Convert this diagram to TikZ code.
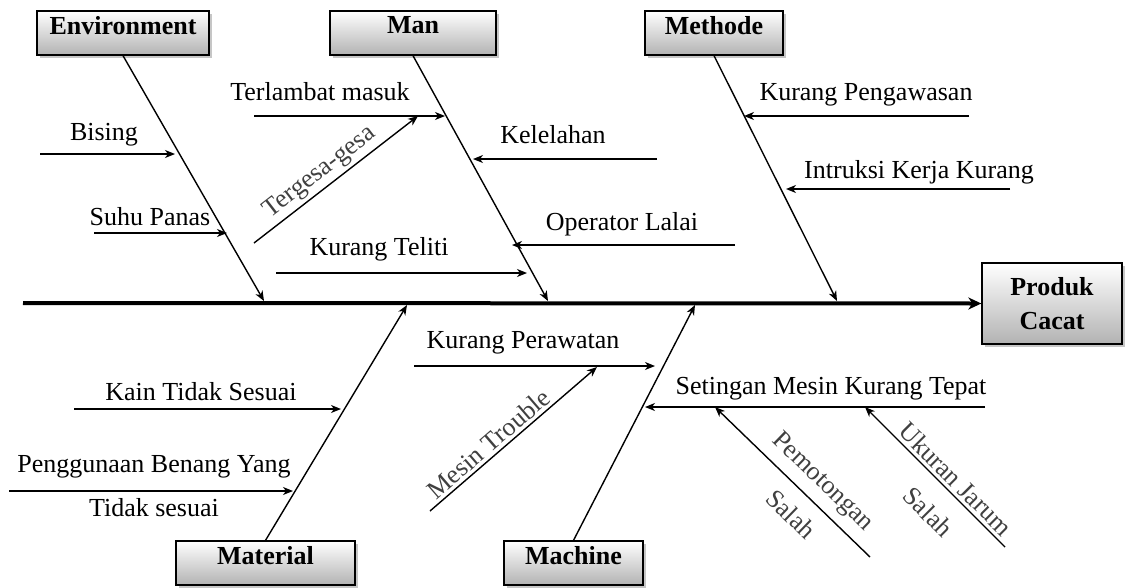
\documentclass[tikz,border=0pt]{standalone}
\usepackage{fontspec}
\setmainfont{Liberation Serif}
\usetikzlibrary{arrows.meta,shadows}
\begin{document}
\begin{tikzpicture}[x=1pt,y=-1pt,
  catbox/.style={draw=black, line width=1.3pt, top color=white, bottom color=black!30,
    drop shadow={shadow xshift=2.5pt,shadow yshift=-2.5pt,opacity=.45},
    minimum height=44pt, inner sep=0pt},
  cattext/.style={font=\fontsize{26}{28}\selectfont\bfseries, anchor=north, inner sep=0pt, yshift=-6pt},
  lbl/.style={font=\fontsize{26}{28}\selectfont, inner sep=0pt},
  rlbl/.style={lbl, text=black!75},
  spine/.style={line width=1.4pt, -{Stealth[length=10pt,width=8pt,inset=3pt]}},
  cause/.style={line width=1.4pt, -{Stealth[length=10pt,width=8pt,inset=3pt]}},
  mainline/.style={line width=4pt, -{Stealth[length=13pt,width=12pt,inset=4pt]}}
]
\useasboundingbox (0,0) rectangle (1125,587);

% category boxes
\node[catbox, minimum width=172pt] (env) at (123,33) {};
\node[cattext] (envt) at (env.north) {Environment};
\node[catbox, minimum width=166pt] (man) at (413,33) {};
\node[cattext] (mant) at (man.north) {Man};
\node[catbox, minimum width=138pt] (met) at (714,33) {};
\node[cattext] (mett) at (met.north) {Methode};
\node[catbox, minimum width=179pt] (mat) at (265.5,563) {};
\node[cattext] (matt) at (mat.north) {Material};
\node[catbox, minimum width=139pt] (mac) at (573.5,563) {};
\node[cattext] (mact) at (mac.north) {Machine};
\node[catbox, minimum width=140pt, minimum height=81pt, align=center,
  font=\fontsize{26}{34}\selectfont\bfseries] (prod) at (1052,303.5) {Produk\\Cacat};

% main line
\coordinate (ms) at (23,303);
\draw[mainline] (ms) -- (prod.west);

% spines
\coordinate (envtip) at (264,301);
\coordinate (mantip) at (548,301);
\coordinate (mettip) at (837,301);
\coordinate (mattip) at (407,305);
\coordinate (mactip) at (695,305);
\draw[spine] (env.south) -- (envtip);
\draw[spine] (man.south) -- (mantip);
\draw[spine] (met.south) -- (mettip);
\draw[spine] (mat.north) -- (mattip);
\draw[spine] (mac.north) -- (mactip);

% Environment causes
\coordinate (bis1) at (40,154);   \coordinate (bis2) at (175,154);
\coordinate (suh1) at (94,233);   \coordinate (suh2) at (227,233);
\draw[cause] (bis1) -- (bis2);
\draw[cause] (suh1) -- (suh2);
\node[lbl] (bis) at (104,135) {Bising};
\node[lbl] (suh) at (150,217) {Suhu Panas};

% Man causes
\coordinate (ter1) at (254,116);  \coordinate (ter2) at (445,116);
\coordinate (tg1) at (254,243);   \coordinate (tg2) at (418,116);
\coordinate (kt1) at (276,273);   \coordinate (kt2) at (527,273);
\coordinate (kel1) at (657,159);  \coordinate (kel2) at (473,159);
\coordinate (op1) at (735,245);   \coordinate (op2) at (512,245);
\draw[cause] (ter1) -- (ter2);
\draw[cause] (tg1) -- (tg2) node[rlbl, pos=0.46, sloped, above=3pt] (tg) {Tergesa-gesa};
\draw[cause] (kt1) -- (kt2);
\draw[cause] (kel1) -- (kel2);
\draw[cause] (op1) -- (op2);
\node[lbl] (ter) at (320,92) {Terlambat masuk};
\node[lbl] (kt) at (379,249) {Kurang Teliti};
\node[lbl] (kel) at (553,135) {Kelelahan};
\node[lbl] (op) at (622,224) {Operator Lalai};

% Methode causes
\coordinate (kp1) at (969,116);   \coordinate (kp2) at (744,116);
\coordinate (ik1) at (1010,189);  \coordinate (ik2) at (786,189);
\draw[cause] (kp1) -- (kp2);
\draw[cause] (ik1) -- (ik2);
\node[lbl] (kp) at (866,95) {Kurang Pengawasan};
\node[lbl] (ik) at (919,172) {Intruksi Kerja Kurang};

% Material causes
\coordinate (kn1) at (74,409);    \coordinate (kn2) at (341,409);
\coordinate (pb1) at (9,491);     \coordinate (pb2) at (293,491);
\draw[cause] (kn1) -- (kn2);
\draw[cause] (pb1) -- (pb2);
\node[lbl] (kn) at (201,392) {Kain Tidak Sesuai};
\node[lbl] (pb) at (154,467) {Penggunaan Benang Yang};
\node[lbl] (pbb) at (154,508) {Tidak sesuai};

% Machine causes
\coordinate (kr1) at (414,366);   \coordinate (kr2) at (655,366);
\coordinate (mt1) at (430,511);   \coordinate (mt2) at (597,367);
\coordinate (st1) at (985,407);   \coordinate (st2) at (645,407);
\coordinate (pm1) at (870,557);   \coordinate (pm2) at (715,407);
\coordinate (uj1) at (1005,547);  \coordinate (uj2) at (865,407);
\draw[cause] (kr1) -- (kr2);
\draw[cause] (mt1) -- (mt2) node[rlbl, pos=0.40, sloped, above=3pt] (mt) {Mesin Trouble};
\draw[cause] (st1) -- (st2);
\draw[cause] (pm1) -- (pm2);
\draw[cause] (uj1) -- (uj2);
\path (pm2) -- (pm1)
  node[rlbl, pos=0.60, sloped, above=9pt] (pm) {Pemotongan}
  node[rlbl, pos=0.60, sloped, below=15pt] (pms) {Salah};
\path (uj2) -- (uj1)
  node[rlbl, pos=0.58, sloped, above=4pt] (uj) {Ukuran Jarum}
  node[rlbl, pos=0.60, sloped, below=20pt] (ujs) {Salah};
\node[lbl] (kr) at (523,343) {Kurang Perawatan};
\node[lbl] (st) at (831,389) {Setingan Mesin Kurang Tepat};
\end{tikzpicture}
\end{document}
